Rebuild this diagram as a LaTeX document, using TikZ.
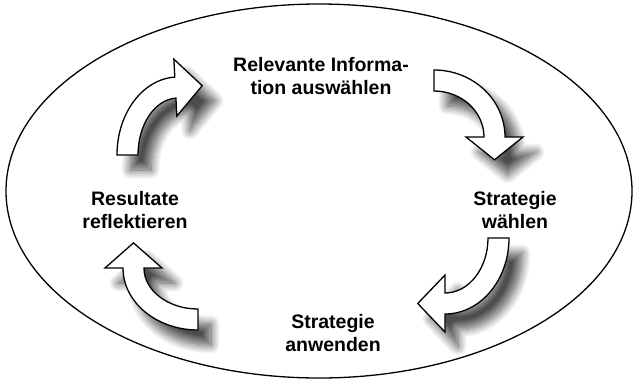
\documentclass[tikz,border=0pt]{standalone}
\usepackage{fontspec}
\setmainfont{Liberation Sans}
\usetikzlibrary{shadows.blur}

\tikzset{
  pfeil/.style={draw=black, line width=1.3pt, fill=white, line join=miter,
    blur shadow={shadow xshift=13pt, shadow yshift=-15pt, shadow blur radius=9pt,
      shadow blur steps=14, shadow opacity=70}},
  schritt/.style={font=\fontsize{19.5}{22.4}\selectfont\bfseries, align=center, inner sep=0pt},
}

% gebogener Blockpfeil: #1 Mittelpunkt, #2/#3 innere Halbachsen,
% #4 Winkel am Ende, #5 Winkel am Ansatz der Spitze, #6 Winkel der Spitze
\newcommand{\kreispfeil}[6]{%
  \begin{scope}[shift={#1}]
    \path[pfeil] (#4:{#2+21} and {#3+21})
      arc[start angle=#4, end angle=#5, x radius={#2+21}, y radius={#3+21}]
      -- (#5:{#2+39} and {#3+39})
      -- (#6:{(#2+10.5)/cos(#5-#6)} and {(#3+10.5)/cos(#5-#6)})
      -- (#5:{#2-18} and {#3-18})
      -- (#5:#2 and #3)
      arc[start angle=#5, end angle=#4, x radius=#2, y radius=#3]
      -- cycle;
  \end{scope}}

\begin{document}
\begin{tikzpicture}[x=1pt, y=1pt]
  \useasboundingbox (0,0) rectangle (636,-381);

  % Rahmen
  \draw[line width=1.3pt] (319,-191) ellipse [x radius=313, y radius=187];

  % Pfeile
  \kreispfeil{(178,-155)}{40}{57}{180}{93}{65}
  \kreispfeil{(434,-137)}{50}{46}{90}{0}{-22}
  \kreispfeil{(445,-238)}{43}{55}{0}{-90}{-117}
  \kreispfeil{(198,-268)}{54}{41}{270}{180}{154}

  % Schritte
  \node[schritt] (auswahl) at (321,-76) {Relevante Informa-\\tion auswählen};
  \node[schritt] (strategie) at (515,-210) {Strategie\\wählen};
  \node[schritt] (anwenden) at (333,-333) {Strategie\\anwenden};
  \node[schritt] (reflexion) at (135,-210) {Resultate\\reflektieren};
\end{tikzpicture}
\end{document}
